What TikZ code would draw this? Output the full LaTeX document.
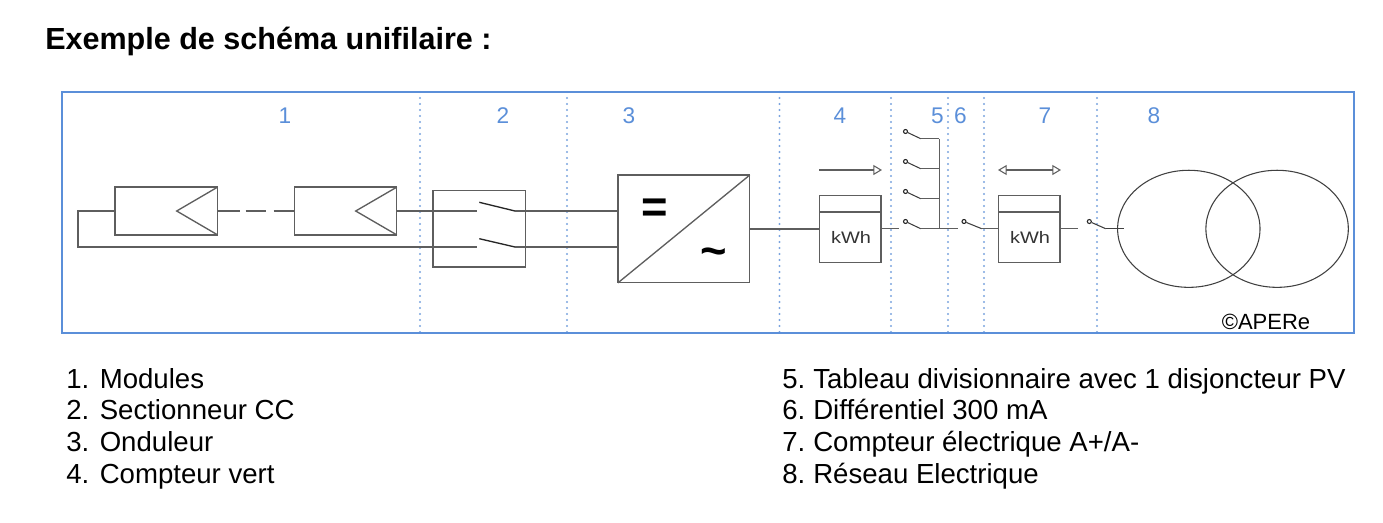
\documentclass[tikz,border=0pt]{standalone}
\usepackage{graphicx}
\usepackage{fontspec}
\setmainfont{Liberation Sans}
\usetikzlibrary{arrows.meta, positioning, calc, shapes.geometric}
\definecolor{framecol}{HTML}{5B8FD9}
\definecolor{dotcol}{HTML}{7BA3DE}
\definecolor{wirecol}{HTML}{5E5E5E}
\begin{document}
\begin{tikzpicture}[
        x=0.75pt, y=-0.75pt,
        wire/.style={draw=wirecol, line width=1pt},
        thin wire/.style={draw=black!75, line width=0.8pt},
        module/.style={rectangle, wire, outer sep=0pt, minimum width=76.9pt, minimum height=35.8pt},
        isolator/.style={rectangle, wire, outer sep=0pt, minimum width=69.5pt, minimum height=57.2pt},
        inverter/.style={rectangle, wire, outer sep=0pt, minimum width=98.8pt, minimum height=80.8pt},
        meter/.style={rectangle, wire, outer sep=0pt, minimum width=46.3pt, minimum height=50.5pt},
        contact/.style={circle, draw=black!85, line width=0.8pt, inner sep=0pt, minimum size=3pt},
        flowtip/.tip={Triangle[open, length=6.5pt, width=7.5pt, line width=0.8pt]},
        flow/.style={wire, -flowtip},
        zone/.style={text=framecol, font=\fontsize{17}{20}\selectfont},
        listitem/.style={anchor=base west, inner sep=0pt, font=\fontsize{20.7}{25}\selectfont},
        network/.style={ellipse, thin wire, outer sep=0pt, minimum width=106.8pt, minimum height=87.8pt}
    ]
        \useasboundingbox (0,0) rectangle (1383,522);

        \node[anchor=base west, inner sep=0pt, font=\fontsize{22.9}{27}\selectfont\bfseries] (title) at (45,49) {Exemple de schéma unifilaire :};

        % Frame and zones
        \foreach \x/\n in {420/a, 567/b, 779.5/c, 891/d, 948/e, 984/f, 1097/g} {
            \coordinate (top\n) at (\x,92);
            \coordinate (bot\n) at (\x,333);
            \draw[dotcol, line width=1.7pt, line cap=round, dash pattern=on 0pt off 4.5pt] (top\n) -- (bot\n);
        }
        \node[rectangle, draw=framecol, line width=1.9pt, outer sep=0pt, minimum width=969pt, minimum height=180.7pt] (frame) at (708,212.5) {};
        \foreach \x/\n in {285/1, 503/2, 629/3, 840/4, 937.5/5, 960.5/6, 1045/7, 1154/8}
            \node[zone] (zone\n) at (\x,116) {\n};

        % Modules
        \node[module] (mod1) at (166.3,211) {};
        \node[module] (mod2) at (345.5,211) {};
        \coordinate (tip1) at (176.7,211);
        \coordinate (tip2) at (355.7,211);
        \draw[wire] (mod1.north east) -- (tip1) -- (mod1.south east);
        \draw[wire] (mod2.north east) -- (tip2) -- (mod2.south east);
        \coordinate (dashA) at (240,211);
        \coordinate (dashB) at (245.7,211);
        \coordinate (dashC) at (266,211);
        \coordinate (dashD) at (273.7,211);
        \draw[wire] (mod1.east) -- (dashA);
        \draw[wire] (dashB) -- (dashC);
        \draw[wire] (dashD) -- (mod2.west);
        \coordinate (loopA) at (78,211);
        \coordinate (loopB) at (78,247);

        % DC isolator
        \node[isolator] (sect) at (479.4,228.9) {};
        \coordinate (inA) at (476.7,211);
        \coordinate (inB) at (476.7,247);
        \coordinate (bladeA) at (479.3,202.3);
        \coordinate (bladeB) at (479.3,238.7);
        \coordinate (outA) at (515,211);
        \coordinate (outB) at (515,247);
        \draw[wire] (mod1.west) -- (loopA) -- (loopB) -- (inB);
        \draw[wire] (mod2.east) -- (inA);
        \draw[line width=1pt, black!85] (bladeA) -- (outA);
        \draw[line width=1pt, black!85] (bladeB) -- (outB);

        % Inverter
        \node[inverter] (ond) at (683.9,228.9) {};
        \draw[wire] (outA) -- (outA -| ond.west);
        \draw[wire] (outB) -- (outB -| ond.west);
        \draw[wire] (ond.south west) -- (ond.north east);
        \node[font=\fontsize{34}{34}\selectfont\bfseries, inner sep=0pt] (dcsign) at (655,211) {=};
        \node[font=\fontsize{34}{34}\selectfont\bfseries, inner sep=0pt] (acsign) at (714,257) {\char"007E};

        % Green meter
        \node[meter] (cpt4) at (850.2,229) {};
        \draw[wire] (cpt4.west |- 212,212) -- (cpt4.east |- 212,212);
        \node[inner sep=0pt, text=black!80, font=\fontsize{12.5}{14}\selectfont] (kwh4) at (851,237.3) {\scalebox{1.2}[1]{kWh}};
        \draw[wire] (ond.east) -- (ond.east -| cpt4.west);
        \coordinate (arr4a) at (819,170);
        \coordinate (arr4b) at (882,170);
        \draw[flow] (arr4a) -- (arr4b);

        % Distribution board
        \coordinate (wire4) at (899.3,228.7);
        \draw[wire] (wire4 -| cpt4.east) -- (wire4);
        \coordinate (busend) at (958,228.7);
        \foreach \y/\n in {138.7/1, 168.7/2, 198.7/3, 228.7/4} {
            \node[contact] (cb\n) at (905.5,\y-7.2) {};
            \coordinate (hinge\n) at (920.7,\y);
            \coordinate (tap\n) at (939.3,\y);
            \draw[thin wire] (cb\n) -- (hinge\n);
            \draw[wire] (hinge\n) -- (tap\n);
        }
        \draw[wire] (tap1) -- (tap4);
        \draw[wire] (tap4) -- (busend);

        % Residual current device
        \node[contact] (cb6) at (964,221.5) {};
        \coordinate (hinge6) at (981.7,228.7);
        \node[meter] (cpt7) at (1029.2,229) {};
        \draw[wire] (cpt7.west |- 212,212) -- (cpt7.east |- 212,212);
        \node[inner sep=0pt, text=black!80, font=\fontsize{12.5}{14}\selectfont] (kwh7) at (1030,237.3) {\scalebox{1.2}[1]{kWh}};
        \draw[thin wire] (cb6) -- (hinge6);
        \draw[wire] (hinge6) -- (hinge6 -| cpt7.west);
        \coordinate (arr7a) at (998,170);
        \coordinate (arr7b) at (1061,170);
        \draw[wire, flowtip-flowtip] (arr7a) -- (arr7b);

        % Grid
        \coordinate (wire7) at (1078.3,228.7);
        \draw[wire] (wire7 -| cpt7.east) -- (wire7);
        \node[contact] (cb8) at (1089.3,221.5) {};
        \coordinate (hinge8) at (1105.7,228.7);
        \coordinate (gridin) at (1124.3,228.7);
        \draw[thin wire] (cb8) -- (hinge8);
        \draw[thin wire] (hinge8) -- (gridin);
        \node[network] (grid1) at (1188.8,228.8) {};
        \node[network] (grid2) at (1277.1,228.8) {};

        \node[inner sep=0pt, font=\fontsize{16.5}{19}\selectfont] (apere) at (1266,321.5) {©APERe};

        % Legend
        \foreach \n/\y/\t in {1/388/Modules, 2/419/Sectionneur CC, 3/451/Onduleur, 4/483/Compteur vert} {
            \node[listitem] (num\n) at (66,\y) {\n.};
            \node[listitem] (item\n) at (99.5,\y) {\t};
        }
        \foreach \n/\y/\t in {5/388/Tableau divisionnaire avec 1 disjoncteur PV, 6/419/Différentiel 300 mA, 7/451/{Compteur électrique A+/A-}, 8/483/Réseau Electrique} {
            \node[listitem] (num\n) at (782,\y) {\n.};
            \node[listitem] (item\n) at (813,\y) {\t};
        }
\end{tikzpicture}
\end{document}
